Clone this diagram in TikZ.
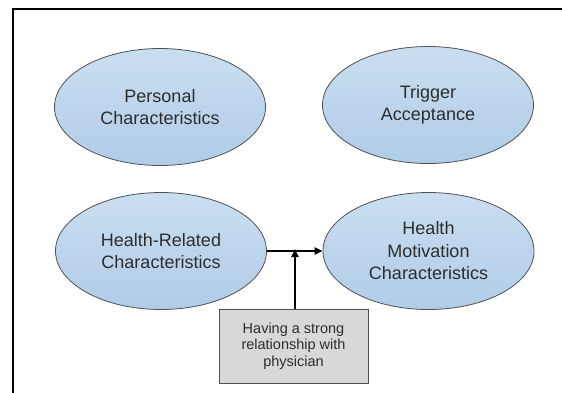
\documentclass[tikz,border=0pt]{standalone}
\usepackage{fontspec}
\setmainfont{Liberation Sans}
\usetikzlibrary{shapes.geometric,arrows.meta}
\definecolor{ellTop}{RGB}{202,222,240}
\definecolor{ellBot}{RGB}{176,204,231}
\definecolor{ellLine}{RGB}{80,80,80}
\definecolor{txt}{RGB}{45,45,45}
\definecolor{boxFill}{RGB}{216,216,216}
\tikzset{
  oval/.style={ellipse, draw=ellLine, line width=0.8pt, top color=ellTop, bottom color=ellBot,
    minimum width=211pt, minimum height=117pt, inner sep=0pt, align=center, text=txt,
    font=\fontsize{18}{22.5}\selectfont},
  notebox/.style={rectangle, draw=ellLine, line width=0.8pt, fill=boxFill,
    minimum width=149pt, minimum height=74pt, inner sep=0pt, align=center, text=txt,
    font=\fontsize{14.5}{16.3}\selectfont},
  conn/.style={line width=2pt, -{Triangle[length=8pt,width=7pt]}}
}
\begin{document}
\begin{tikzpicture}[x=1pt,y=-1pt]
\clip (0,0) rectangle (562,392);
\fill[white] (0,0) rectangle (562,392);
\draw[line width=2pt] (13,9) rectangle (600,450);
\node[oval] (pc) at (160,107) {Personal\\Characteristics};
\node[oval] (ta) at (428,105) {Trigger\\Acceptance};
\node[oval] (hr) at (161,251) {Health-Related\\Characteristics};
\node[oval] (hm) at (428.5,251) {Health\\Motivation\\Characteristics};
\node[notebox] (hb) at (293.5,346) {Having a strong\\relationship with\\physician};
\coordinate (m) at (295,251);
\draw[conn] (hr.east) -- (hm.west);
\draw[conn] (hb.north -| m) -- ([yshift=2pt]m);
\end{tikzpicture}
\end{document}
